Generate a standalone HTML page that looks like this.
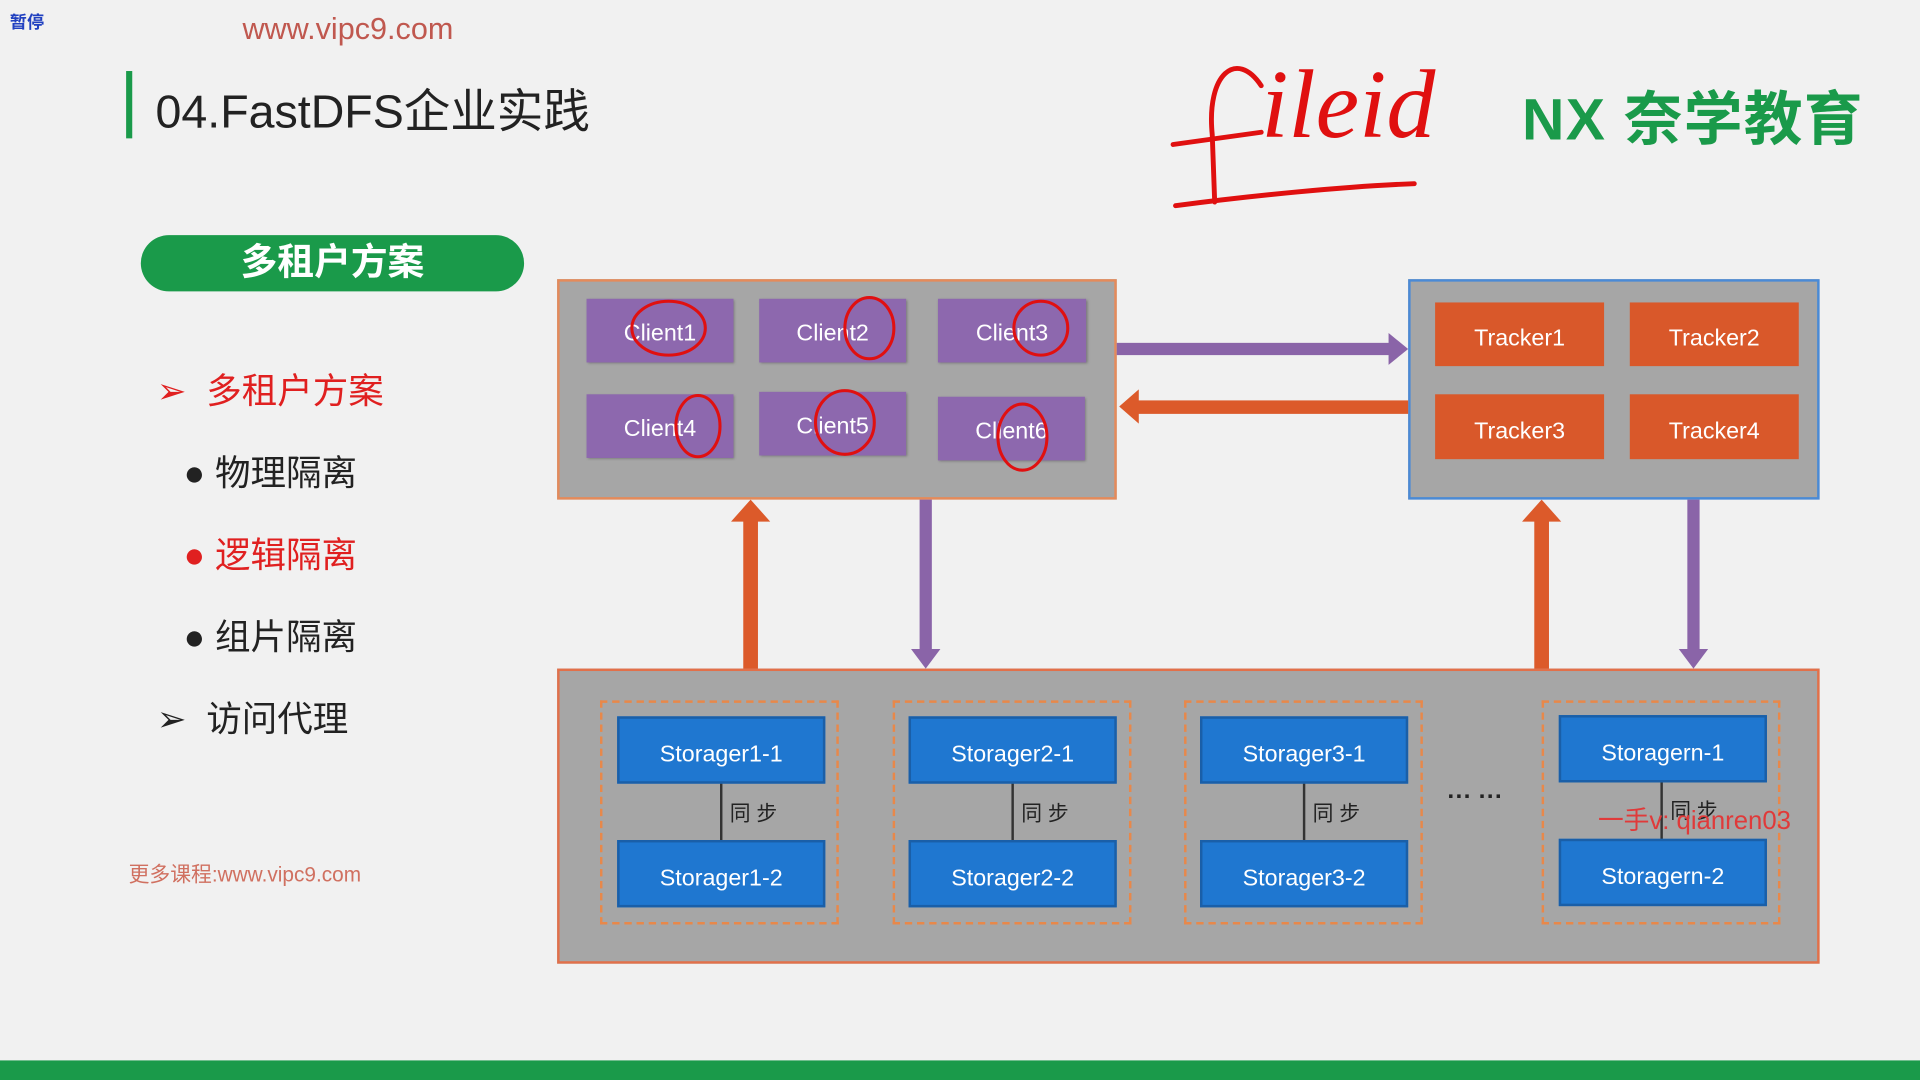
<!DOCTYPE html><html><head><meta charset="utf-8"><style>
*{margin:0;padding:0;box-sizing:border-box}
body{width:1920px;height:1080px;overflow:hidden;background:#f1f1f1;font-family:"Liberation Sans","Noto Sans CJK SC",sans-serif}
#s{position:absolute;left:0;top:0;width:1568px;height:882px;transform:scale(1.22449);transform-origin:0 0}
.a{position:absolute}
.c{position:absolute;background:#8d68ae;color:#fff;font-size:19px;display:flex;align-items:center;justify-content:center;box-shadow:1px 1px 2px #777;padding-top:6px}
.t{position:absolute;background:#d9582a;color:#fff;font-size:19px;display:flex;align-items:center;justify-content:center;padding-top:8px}
.st{position:absolute;background:#1f77d0;color:#fff;font-size:19px;display:flex;align-items:center;justify-content:center;border:2px solid #1a5fa8;width:170px;height:55px;padding-top:8px}
.g{position:absolute;border:2px dashed #e8884a;width:195px;height:183px;top:572px}
.li{position:absolute;font-size:29px;color:#222}
</style></head><body><div id="s">
<div class="a" style="left:8px;top:8px;font-size:14px;color:#2040c0;font-weight:bold">暂停</div>
<div class="a" style="left:198px;top:10px;font-size:25px;color:#c0584f">www.vipc9.com</div>
<div class="a" style="left:103px;top:58px;width:5px;height:55px;background:#1a9a4a"></div>
<div class="a" style="left:127px;top:60px;font-size:38px;color:#222">04.FastDFS企业实践</div>
<div class="a" style="left:1243px;top:58px;font-size:48px;color:#1a9a4a;font-weight:bold;letter-spacing:1px">NX 奈学教育</div>
<svg class="a" style="left:0;top:0" width="1568" height="882">
<g fill="none" stroke="#e01010" stroke-width="4" stroke-linecap="round">
<path d="M1030 70 C1010 40 985 60 990 110 L992 165"/>
<path d="M958 118 L1030 108"/>
<path d="M960 168 C1020 160 1100 152 1155 150"/>
</g>
<text x="1030" y="112" font-family="Liberation Serif" font-style="italic" font-size="80" fill="#e01010">ileid</text>
</svg>
<div class="a" style="left:115px;top:192px;width:313px;height:46px;border-radius:23px;background:#1a9a4a;color:#fff;font-size:30px;font-weight:bold;text-align:center;line-height:46px">多租户方案</div>
<div class="li" style="left:128px;top:296px;color:#e02020">➢&nbsp; 多租户方案</div>
<div class="li" style="left:150px;top:363px">●&nbsp;物理隔离</div>
<div class="li" style="left:150px;top:430px;color:#e02020">●&nbsp;逻辑隔离</div>
<div class="li" style="left:150px;top:497px">●&nbsp;组片隔离</div>
<div class="li" style="left:128px;top:564px">➢&nbsp; 访问代理</div>
<div class="a" style="left:105px;top:700px;font-size:17px;color:#d07060">更多课程:www.vipc9.com</div>

<div class="a" style="left:455px;top:228px;width:457px;height:180px;background:#a6a6a6;border:2px solid #e58a5a"></div>
<div class="c" style="left:479px;top:244px;width:120px;height:52px">Client1</div>
<div class="c" style="left:620px;top:244px;width:120px;height:52px">Client2</div>
<div class="c" style="left:766px;top:244px;width:121px;height:52px">Client3</div>
<div class="c" style="left:479px;top:322px;width:120px;height:52px">Client4</div>
<div class="c" style="left:620px;top:320px;width:120px;height:52px">Client5</div>
<div class="c" style="left:766px;top:324px;width:120px;height:52px">Client6</div>

<div class="a" style="left:1150px;top:228px;width:336px;height:180px;background:#a6a6a6;border:2px solid #4a8ad6"></div>
<div class="t" style="left:1172px;top:247px;width:138px;height:52px">Tracker1</div>
<div class="t" style="left:1331px;top:247px;width:138px;height:52px">Tracker2</div>
<div class="t" style="left:1172px;top:322px;width:138px;height:53px">Tracker3</div>
<div class="t" style="left:1331px;top:322px;width:138px;height:53px">Tracker4</div>

<div class="a" style="left:455px;top:546px;width:1031px;height:241px;background:#a6a6a6;border:2px solid #e2704a"></div>
<div class="g" style="left:490px"></div><div class="g" style="left:729px"></div><div class="g" style="left:967px"></div><div class="g" style="left:1259px"></div>
<svg class="a" style="left:0;top:0" width="1568" height="882">
<g stroke="#333" stroke-width="2"><line x1="589" y1="639" x2="589" y2="686"/><line x1="827" y1="639" x2="827" y2="686"/><line x1="1065" y1="639" x2="1065" y2="686"/><line x1="1357" y1="639" x2="1357" y2="686"/></g>
<g fill="#8a64a8"><rect x="912" y="280" width="224" height="10"/><polygon points="1134,272 1150,285 1134,298"/>
<rect x="751" y="408" width="10" height="124"/><polygon points="744,530 768,530 756,546"/>
<rect x="1378" y="408" width="10" height="124"/><polygon points="1371,530 1395,530 1383,546"/></g>
<g fill="#dc5a2a"><rect x="928" y="327" width="222" height="11"/><polygon points="930,318 914,332 930,346"/>
<rect x="607" y="424" width="12" height="122"/><polygon points="597,426 629,426 613,408"/>
<rect x="1253" y="424" width="12" height="122"/><polygon points="1243,426 1275,426 1259,408"/></g>
<g fill="none" stroke="#e01010" stroke-width="2.5">
<ellipse cx="546" cy="268" rx="30" ry="22"/><ellipse cx="710" cy="268" rx="20" ry="25"/><ellipse cx="850" cy="268" rx="22" ry="22"/>
<ellipse cx="570" cy="348" rx="18" ry="25"/><ellipse cx="690" cy="345" rx="24" ry="26"/><ellipse cx="835" cy="357" rx="20" ry="27"/>
</g>
</svg>
<div class="st" style="left:504px;top:585px">Storager1-1</div><div class="st" style="left:504px;top:686px">Storager1-2</div>
<div class="st" style="left:742px;top:585px">Storager2-1</div><div class="st" style="left:742px;top:686px">Storager2-2</div>
<div class="st" style="left:980px;top:585px">Storager3-1</div><div class="st" style="left:980px;top:686px">Storager3-2</div>
<div class="st" style="left:1273px;top:584px">Storagern-1</div><div class="st" style="left:1273px;top:685px">Storagern-2</div>
<div class="a" style="left:596px;top:650px;font-size:17px;color:#222">同 步</div>
<div class="a" style="left:834px;top:650px;font-size:17px;color:#222">同 步</div>
<div class="a" style="left:1072px;top:650px;font-size:17px;color:#222">同 步</div>
<div class="a" style="left:1364px;top:648px;font-size:17px;color:#222">同 步</div>
<div class="a" style="left:1182px;top:640px;font-size:20px;color:#222;font-weight:bold">··· ···</div>
<div class="a" style="left:1305px;top:654px;font-size:21px;color:#e03a3a">一手v: qianren03</div>
<div class="a" style="left:0;top:866px;width:1568px;height:16px;background:#1a9a4a"></div>
</div></body></html>
